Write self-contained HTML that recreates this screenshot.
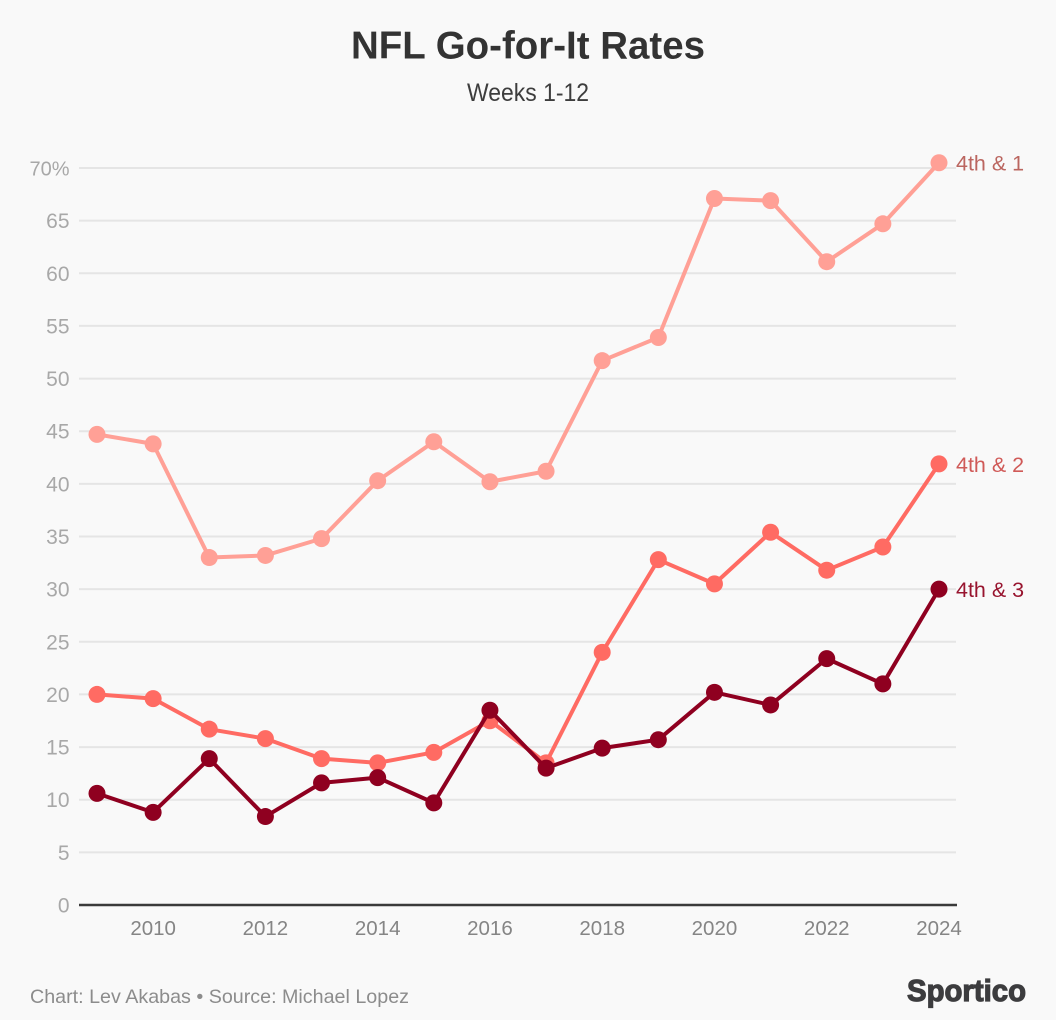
<!DOCTYPE html>
<html lang="en">
<head>
<meta charset="utf-8">
<title>NFL Go-for-It Rates</title>
<style>
html,body{margin:0;padding:0;background:#f9f9f9;}
svg{display:block;font-family:"Liberation Sans",sans-serif;}
</style>
</head>
<body>
<svg id="chart" xmlns="http://www.w3.org/2000/svg" width="1056" height="1020" viewBox="0 0 1056 1020">
  <rect x="0" y="0" width="1056" height="1020" fill="#f9f9f9"/>
  <text x="528" y="58.5" text-anchor="middle" font-size="39" font-weight="700" fill="#333333" textLength="354" lengthAdjust="spacingAndGlyphs">NFL Go-for-It Rates</text>
  <text x="528" y="101" text-anchor="middle" font-size="25" fill="#3d3d3d" textLength="122" lengthAdjust="spacingAndGlyphs">Weeks 1-12</text>
  <g id="grid"></g>
  <g id="ylabels"></g>
  <g id="xlabels"></g>
  <g id="series"></g>
  <text x="30" y="1003" font-size="19.5" fill="#8c8c8c" textLength="379" lengthAdjust="spacingAndGlyphs">Chart: Lev Akabas • Source: Michael Lopez</text>
  <text x="907" y="1001" font-size="31" font-weight="700" fill="#3c3c3e" stroke="#3c3c3e" stroke-width="1.2" textLength="119" lengthAdjust="spacingAndGlyphs">Sportico</text>
</svg>
<script>
var years = [2009,2010,2011,2012,2013,2014,2015,2016,2017,2018,2019,2020,2021,2022,2023,2024];
var fourthAnd1 = [44.7,43.8,33.0,33.2,34.8,40.3,44.0,40.2,41.2,51.7,53.9,67.1,66.9,61.1,64.7,70.5];
var fourthAnd2 = [20.0,19.6,16.7,15.8,13.9,13.5,14.5,17.5,13.5,24.0,32.8,30.5,35.4,31.8,34.0,41.9];
var fourthAnd3 = [10.6,8.8,13.9,8.4,11.6,12.1,9.7,18.5,13.0,14.9,15.7,20.2,19.0,23.4,21.0,30.0];
var yTicks = [0,5,10,15,20,25,30,35,40,45,50,55,60,65,70];
var xTicks = [2010,2012,2014,2016,2018,2020,2022,2024];
var seriesNames = ['4th & 1','4th & 2','4th & 3'];

var NS = 'http://www.w3.org/2000/svg';
function xScale(year){ return 97 + (year - 2009) * (939 - 97) / 15; }
function yScale(v){ return 905 - v * (905 - 168) / 70; }
function make(tag, parent, attrs){
  var el = document.createElementNS(NS, tag);
  for (var k in attrs) el.setAttribute(k, attrs[k]);
  parent.appendChild(el);
  return el;
}

var grid = document.getElementById('grid');
var ylabels = document.getElementById('ylabels');
var xlabels = document.getElementById('xlabels');
var seriesRoot = document.getElementById('series');

yTicks.forEach(function(t){
  if (t !== 0) {
    var line = make('line', grid, {x1:79, x2:956, y1:yScale(t), y2:yScale(t), stroke:'#e5e5e5', 'stroke-width':2});
    
    
  }
  var label = make('text', ylabels, {x:69.5, y:yScale(t) + 7.5, 'text-anchor':'end', 'font-size':t === 70 ? 20 : 21, fill:'#a8a8a8'});
  label.textContent = t === 70 ? '70%' : String(t);
  
  
});

var axis = make('line', grid, {x1:79, x2:957, y1:yScale(0), y2:yScale(0), stroke:'#3a3a3a', 'stroke-width':2.5});



xTicks.forEach(function(y){
  var label = make('text', xlabels, {x:xScale(y), y:935, 'text-anchor':'middle', 'font-size':20.5, fill:'#858585'});
  label.textContent = String(y);
  
  
});

function drawSeries(values, name, lineColor, textColor, slug){
  var g = make('g', seriesRoot, {});
  
  
  var pts = values.map(function(v, i){ return xScale(years[i]) + ',' + yScale(v); }).join(' ');
  var line = make('polyline', g, {points:pts, fill:'none', stroke:lineColor, 'stroke-width':4, 'stroke-linejoin':'round'});
  
  
  values.forEach(function(v, i){
    var c = make('circle', g, {cx:xScale(years[i]), cy:yScale(v), r:8.5, fill:lineColor});
    
    
  });
  var last = values[values.length - 1];
  var label = make('text', g, {x:xScale(years[years.length - 1]) + 17, y:yScale(last) + 8, 'font-size':21.5, fill:textColor});
  label.textContent = name;
  
  
}

drawSeries(fourthAnd1, seriesNames[0], '#ffa096', '#bb6660', '4th-and-1');
drawSeries(fourthAnd2, seriesNames[1], '#ff6b63', '#d05a58', '4th-and-2');
drawSeries(fourthAnd3, seriesNames[2], '#8f0020', '#98152f', '4th-and-3');
</script>
</body>
</html>
